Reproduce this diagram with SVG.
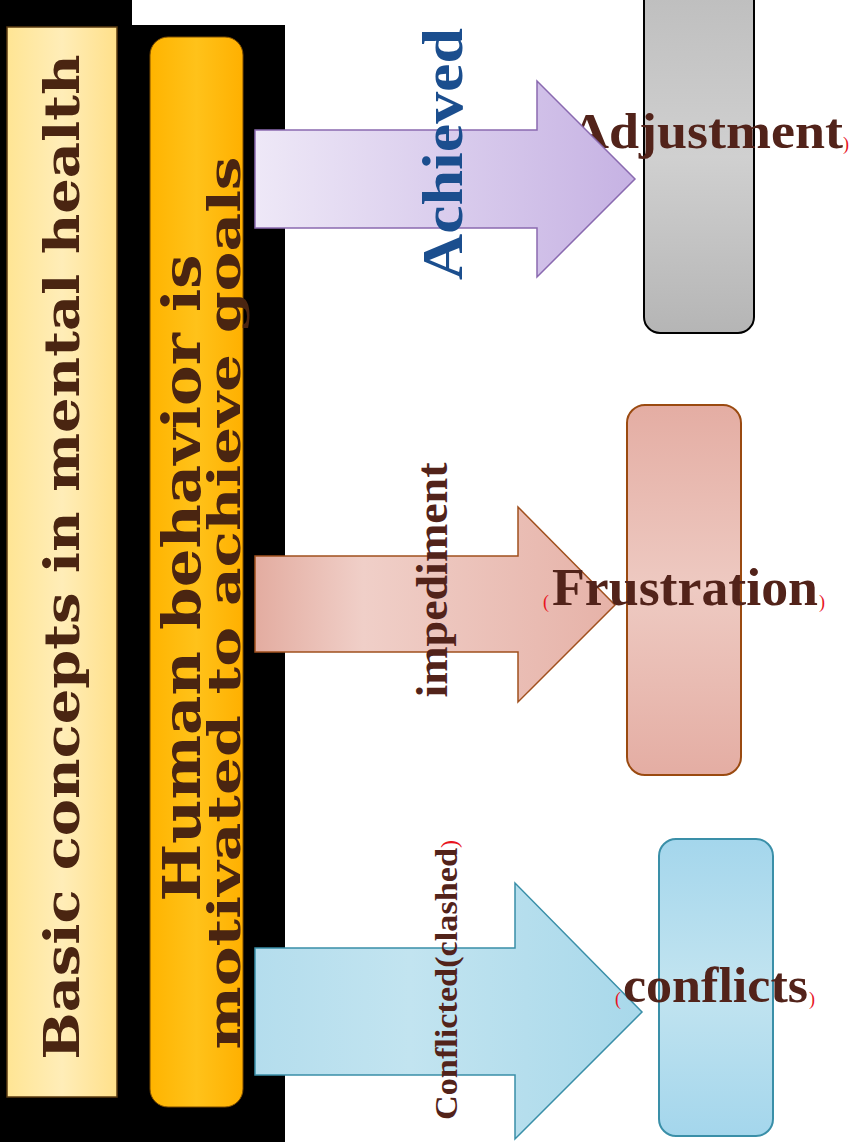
<svg xmlns="http://www.w3.org/2000/svg" width="854" height="1142" viewBox="0 0 854 1142">
<defs>
<linearGradient id="gYel" x1="0" y1="0" x2="1" y2="0"><stop offset="0" stop-color="#FFE594"/><stop offset="0.5" stop-color="#FFEDB8"/><stop offset="1" stop-color="#FFE08A"/></linearGradient>
<linearGradient id="gOr" x1="0" y1="0" x2="1" y2="0"><stop offset="0" stop-color="#FFB400"/><stop offset="0.5" stop-color="#FFC21A"/><stop offset="1" stop-color="#FFB000"/></linearGradient>
<linearGradient id="gPur" x1="0" y1="0" x2="1" y2="0"><stop offset="0" stop-color="#EEE8F7"/><stop offset="1" stop-color="#C6B2E3"/></linearGradient>
<linearGradient id="gPink" x1="0" y1="0" x2="1" y2="0"><stop offset="0" stop-color="#E3ACA0"/><stop offset="0.3" stop-color="#F0CFC8"/><stop offset="1" stop-color="#E6B2A8"/></linearGradient>
<linearGradient id="gBlue" x1="0" y1="0" x2="1" y2="0"><stop offset="0" stop-color="#B4DDED"/><stop offset="0.4" stop-color="#C2E4F0"/><stop offset="1" stop-color="#A8D8EA"/></linearGradient>
<linearGradient id="gGray" x1="0" y1="0" x2="0" y2="1"><stop offset="0" stop-color="#BDBDBD"/><stop offset="0.5" stop-color="#D0D0D0"/><stop offset="1" stop-color="#B5B5B5"/></linearGradient>
<linearGradient id="gPinkR" x1="0" y1="0" x2="0" y2="1"><stop offset="0" stop-color="#E4ADA3"/><stop offset="0.5" stop-color="#EECAC2"/><stop offset="1" stop-color="#E4ADA3"/></linearGradient>
<linearGradient id="gBlueR" x1="0" y1="0" x2="0" y2="1"><stop offset="0" stop-color="#A4D6EC"/><stop offset="0.5" stop-color="#C2E4F0"/><stop offset="1" stop-color="#A4D6EC"/></linearGradient>
</defs>
<style>
.lt{font-family:"DejaVu Serif",serif;font-weight:bold;fill:#4A2511;text-anchor:middle}
.lab{font-family:"Liberation Serif",serif;font-weight:bold;fill:#52231A}
.red{font-family:"Liberation Serif",serif;fill:#E8141E}
</style>
<rect width="854" height="1142" fill="#FFFFFF"/>
<g id="background">
<polygon points="0,0 132,0 132,25 285,25 285,1142 0,1142" fill="#000000"/>
</g>
<g id="title-bar">
<rect x="7" y="27" width="110" height="1070" fill="url(#gYel)" stroke="#5A3A10" stroke-width="1.5"/>
<text class="lt" font-size="48" transform="translate(79,557) rotate(-90)" textLength="1005" lengthAdjust="spacingAndGlyphs">Basic concepts in mental health</text>
</g>
<g id="goal-bar">
<rect x="150" y="37" width="93" height="1070" rx="18" fill="url(#gOr)" stroke="#7A4A00" stroke-width="1"/>
<text class="lt" font-size="52" transform="translate(200,578) rotate(-90)" textLength="647" lengthAdjust="spacingAndGlyphs">Human behavior is</text>
<text class="lt" font-size="44" transform="translate(240,603) rotate(-90)" textLength="893" lengthAdjust="spacingAndGlyphs">motivated to achieve goals</text>
</g>
<g id="adjustment">
<rect x="644" y="-20" width="110" height="353" rx="16" fill="url(#gGray)" stroke="#000000" stroke-width="2"/>
<text class="red" font-size="18" x="561" y="150">(</text>
<text class="lab" font-size="50" x="570" y="148" textLength="273" lengthAdjust="spacingAndGlyphs">Adjustment</text>
<text class="red" font-size="18" x="843" y="150">)</text>
</g>
<g id="frustration">
<rect x="627" y="405" width="114" height="370" rx="18" fill="url(#gPinkR)" stroke="#9A4A10" stroke-width="2"/>
</g>
<g id="conflicts">
<rect x="659" y="839" width="114" height="297" rx="17" fill="url(#gBlueR)" stroke="#3A8FA8" stroke-width="2"/>
</g>
<g id="connectors">
<polygon points="255,130 537,130 537,81 635,179 537,277 537,228 255,228" fill="url(#gPur)" stroke="#8A6AB0" stroke-width="1.5"/>
<polygon points="255,556 518,556 518,507 615,605 518,702 518,652 255,652" fill="url(#gPink)" stroke="#A0501E" stroke-width="1.5"/>
<polygon points="255,948 515,948 515,883 642,1012 515,1139 515,1075 255,1075" fill="url(#gBlue)" stroke="#3A8FA8" stroke-width="1.5"/>
</g>
<g id="labels">
<text font-family="Liberation Serif, serif" font-weight="bold" fill="#1B4E8E" font-size="58" text-anchor="middle" transform="translate(462,154) rotate(-90)" textLength="252" lengthAdjust="spacingAndGlyphs">Achieved</text>
<text class="lab" font-size="44" text-anchor="middle" transform="translate(447,580) rotate(-90)" textLength="235" lengthAdjust="spacingAndGlyphs">impediment</text>
<text class="lab" font-size="32" text-anchor="middle" transform="translate(457,984) rotate(-90)" textLength="272" lengthAdjust="spacingAndGlyphs">Conflicted(clashed</text>
<text class="red" font-size="24" transform="translate(457,848) rotate(-90)">)</text>
<text class="red" font-size="18" x="543" y="608">(</text>
<text class="lab" font-size="52" x="552" y="605" textLength="266" lengthAdjust="spacingAndGlyphs">Frustration</text>
<text class="red" font-size="18" x="819" y="608">)</text>
<text class="red" font-size="18" x="615" y="1005">(</text>
<text class="lab" font-size="50" x="623" y="1002" textLength="185" lengthAdjust="spacingAndGlyphs">conflicts</text>
<text class="red" font-size="18" x="809" y="1005">)</text>
</g>
</svg>
